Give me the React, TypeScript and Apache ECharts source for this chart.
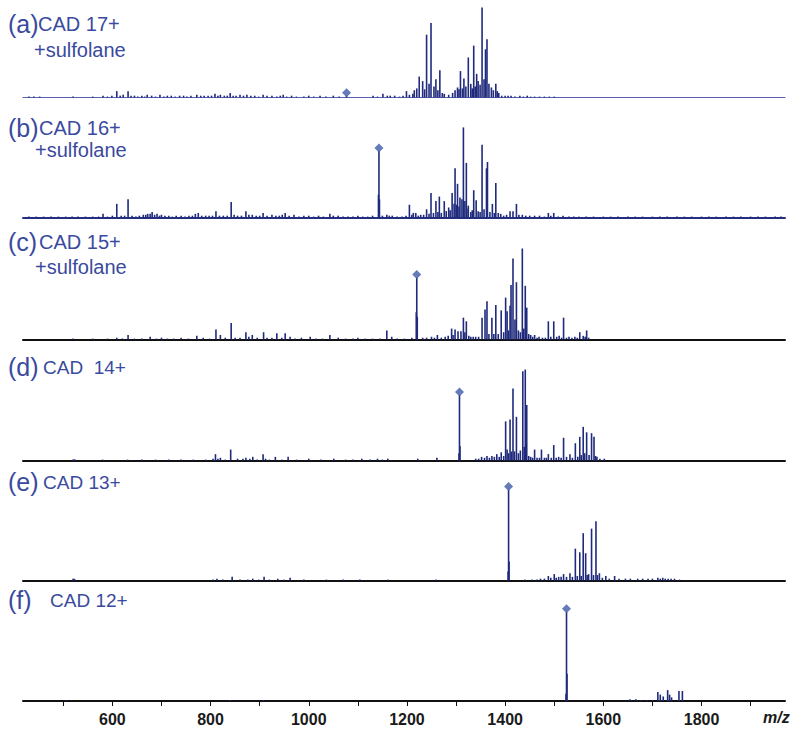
import React, { useEffect, useRef } from "react";
import * as echarts from "echarts";

// m/z axis
const MZ_MIN = 418;
const MZ_MAX = 1970;
const tickValues = [500, 600, 700, 800, 900, 1000, 1100, 1200, 1300, 1400, 1500, 1600, 1700, 1800, 1900];
const labelValues = [600, 800, 1000, 1200, 1400, 1600, 1800];

// panel labels
const panelTags = ["(a)", "(b)", "(c)", "(d)", "(e)", "(f)"];
const panelTitles = ["CAD 17+", "CAD 16+", "CAD 15+", "CAD  14+", "CAD 13+", "CAD 12+"];
const panelSubtitles = ["+sulfolane", "+sulfolane", "+sulfolane", "", "", ""];

// precursor ions [m/z, relative intensity]
const precursors: [number, number][] = [
  [1077, 2],
  [1143, 73],
  [1220, 68],
  [1307, 72],
  [1407, 100],
  [1525, 98],
];

// fragment spectra [m/z, relative intensity]
const peaksA: [number, number][] = [
  [430, 1], [440, 1], [452, 1], [520, 1], [560, 1], [581, 2], [590, 1], [599, 2], [609, 7], [616, 2],
  [622, 3], [632, 7], [638, 2], [645, 2], [652, 1], [660, 2], [666, 1], [671, 3], [680, 2], [688, 1],
  [697, 3], [705, 1], [712, 2], [720, 2], [728, 1], [737, 2], [745, 2], [752, 1], [760, 2], [772, 3],
  [780, 2], [787, 2], [795, 2], [802, 2], [809, 4], [815, 2], [820, 3], [828, 2], [834, 2], [840, 5],
  [846, 2], [852, 2], [860, 3], [867, 2], [874, 3], [882, 2], [890, 2], [898, 1], [907, 3], [915, 2],
  [925, 2], [935, 1], [942, 2], [948, 3], [955, 1], [965, 2], [975, 1], [990, 1], [1000, 2], [1010, 1],
  [1023, 2], [1035, 1], [1050, 2], [1062, 1], [1077, 2], [1131, 2], [1140, 1], [1151, 4], [1160, 2],
  [1166, 2], [1175, 2], [1185, 1], [1192, 2], [1199, 7], [1205, 3], [1212, 4], [1215, 8], [1220, 10],
  [1225, 23], [1232, 18], [1236, 9], [1240, 69], [1245, 15], [1249, 82], [1255, 12], [1259, 20],
  [1263, 8], [1267, 30], [1272, 5], [1276, 4], [1285, 3], [1293, 5], [1298, 8], [1303, 11], [1306, 9],
  [1309, 29], [1313, 10], [1316, 21], [1320, 12], [1325, 44], [1330, 15], [1333, 10], [1336, 57],
  [1339, 12], [1342, 26], [1345, 18], [1349, 14], [1353, 99], [1357, 20], [1360, 53], [1363, 64],
  [1367, 15], [1372, 11], [1376, 8], [1381, 15], [1384, 7], [1387, 5], [1393, 2], [1400, 2], [1406, 2],
  [1412, 2], [1420, 1], [1430, 2], [1437, 1], [1445, 2], [1452, 1], [1460, 1], [1470, 1], [1480, 1],
  [1490, 1], [1500, 1],
];

const peaksB: [number, number][] = [
  [430, 1], [445, 1], [460, 1], [475, 1], [490, 1], [505, 1], [518, 1], [530, 1], [545, 1], [560, 1],
  [572, 1], [581, 4], [590, 1], [600, 2], [609, 15], [618, 2], [625, 2], [632, 20], [640, 2], [648, 1],
  [655, 2], [663, 3], [668, 3], [672, 4], [677, 4], [681, 6], [686, 3], [691, 4], [696, 2], [700, 3],
  [707, 2], [715, 2], [722, 1], [730, 2], [740, 2], [748, 1], [756, 2], [763, 2], [769, 4], [775, 5],
  [782, 2], [790, 2], [797, 2], [804, 2], [811, 7], [818, 2], [826, 2], [834, 2], [842, 17], [848, 3],
  [855, 2], [863, 2], [872, 7], [878, 3], [885, 3], [893, 2], [900, 2], [907, 5], [915, 2], [925, 3],
  [933, 2], [940, 2], [946, 3], [952, 5], [960, 2], [970, 3], [980, 1], [990, 2], [1000, 2], [1010, 1],
  [1020, 2], [1030, 1], [1043, 4], [1050, 2], [1060, 2], [1070, 1], [1080, 1], [1090, 1], [1100, 2],
  [1110, 1], [1120, 1], [1130, 2], [1142, 25], [1143, 73], [1144, 20], [1150, 2], [1159, 3], [1164, 2],
  [1170, 2], [1180, 1], [1190, 1], [1198, 2], [1205, 14], [1210, 3], [1213, 5], [1218, 5], [1223, 2],
  [1228, 3], [1234, 3], [1240, 9], [1245, 4], [1249, 27], [1254, 5], [1259, 18], [1263, 6], [1266, 23],
  [1270, 5], [1276, 18], [1280, 7], [1285, 11], [1288, 8], [1292, 27], [1296, 15], [1298, 54],
  [1301, 14], [1303, 37], [1306, 12], [1308, 22], [1312, 20], [1315, 99], [1318, 18], [1321, 60],
  [1322, 10], [1325, 13], [1330, 6], [1333, 8], [1336, 30], [1341, 19], [1345, 7], [1349, 6],
  [1353, 80], [1357, 9], [1362, 54], [1364, 61], [1369, 6], [1374, 15], [1378, 5], [1381, 38],
  [1386, 5], [1391, 4], [1397, 2], [1403, 3], [1410, 7], [1416, 7], [1423, 15], [1428, 3], [1435, 3],
  [1442, 2], [1450, 2], [1460, 2], [1470, 2], [1480, 1], [1488, 5], [1493, 2], [1499, 5], [1508, 1],
  [1518, 2], [1530, 1], [1540, 1], [1550, 1], [1565, 1], [1580, 1], [1600, 1], [1615, 1], [1630, 1],
  [1650, 1], [1665, 1], [1680, 1], [1700, 1], [1715, 1], [1730, 1], [1750, 1], [1765, 1], [1780, 1],
  [1800, 1], [1815, 1], [1830, 1], [1850, 1], [1865, 1], [1880, 1], [1900, 1], [1915, 1], [1930, 1],
  [1950, 1], [1962, 1],
];

const peaksC: [number, number][] = [
  [520, 1], [560, 1], [590, 1], [609, 2], [620, 1], [632, 5], [645, 1], [660, 1], [677, 3], [690, 1],
  [700, 2], [712, 1], [725, 1], [740, 2], [755, 1], [772, 4], [785, 2], [798, 1], [811, 11], [820, 5],
  [830, 2], [842, 18], [850, 2], [860, 2], [872, 8], [878, 3], [885, 5], [895, 2], [908, 8], [915, 2],
  [925, 2], [935, 7], [945, 2], [952, 7], [962, 3], [972, 1], [985, 2], [1003, 3], [1015, 1], [1028, 1],
  [1043, 5], [1060, 2], [1075, 1], [1090, 1], [1100, 2], [1115, 1], [1130, 1], [1145, 1], [1159, 10],
  [1169, 3], [1180, 1], [1195, 1], [1210, 2], [1219, 30], [1220, 68], [1221, 25], [1232, 2], [1240, 2],
  [1250, 3], [1256, 2], [1262, 5], [1270, 2], [1278, 3], [1284, 4], [1291, 12], [1294, 5], [1298, 11],
  [1304, 9], [1310, 9], [1315, 24], [1318, 8], [1321, 20], [1326, 4], [1330, 3], [1335, 3], [1340, 3],
  [1346, 3], [1353, 24], [1359, 33], [1363, 42], [1367, 6], [1373, 24], [1377, 6], [1381, 38],
  [1386, 6], [1392, 32], [1397, 8], [1401, 46], [1404, 31], [1407, 10], [1410, 37], [1412, 60],
  [1416, 89], [1420, 22], [1423, 63], [1427, 10], [1431, 8], [1435, 100], [1438, 12], [1441, 59],
  [1444, 35], [1448, 6], [1452, 5], [1456, 3], [1460, 5], [1465, 2], [1469, 3], [1476, 2], [1482, 2],
  [1488, 20], [1493, 3], [1499, 20], [1505, 3], [1510, 4], [1515, 2], [1519, 24], [1525, 2], [1530, 3],
  [1536, 2], [1542, 3], [1547, 2], [1552, 8], [1559, 4], [1563, 3], [1566, 10], [1570, 2],
];

const peaksD: [number, number][] = [
  [520, 1], [522, 1], [524, 1], [580, 1], [631, 1], [660, 1], [688, 1], [715, 1], [740, 1], [765, 1],
  [790, 1], [805, 2], [810, 7], [815, 2], [820, 3], [830, 1], [841, 12], [855, 2], [866, 2], [872, 3],
  [880, 2], [886, 4], [895, 1], [907, 7], [912, 2], [920, 1], [932, 4], [945, 1], [958, 4], [975, 1],
  [1000, 2], [1025, 1], [1051, 2], [1075, 1], [1090, 1], [1108, 2], [1125, 1], [1140, 2], [1150, 1],
  [1161, 2], [1222, 2], [1261, 3], [1306, 8], [1307, 72], [1308, 16], [1340, 2], [1346, 2], [1352, 4],
  [1358, 3], [1363, 5], [1368, 3], [1373, 5], [1378, 4], [1383, 7], [1388, 4], [1392, 9], [1397, 5],
  [1401, 43], [1404, 12], [1407, 8], [1410, 45], [1413, 10], [1416, 79], [1419, 10], [1423, 48],
  [1427, 8], [1431, 11], [1436, 98], [1439, 15], [1441, 100], [1444, 61], [1448, 5], [1452, 4], [1456, 3],
  [1460, 12], [1465, 3], [1470, 3], [1474, 12], [1480, 3], [1484, 3], [1488, 7], [1494, 3], [1499, 17],
  [1504, 3], [1509, 4], [1514, 3], [1519, 25], [1525, 4], [1532, 7], [1537, 3], [1543, 19], [1548, 4],
  [1552, 26], [1555, 6], [1559, 37], [1562, 8], [1566, 31], [1571, 6], [1576, 30], [1581, 26],
  [1584, 5], [1587, 4], [1593, 2], [1602, 2],
];

const peaksE: [number, number][] = [
  [520, 2], [522, 2], [524, 1], [805, 1], [813, 2], [825, 1], [844, 4], [860, 1], [876, 1], [886, 2],
  [898, 1], [909, 4], [920, 1], [937, 2], [950, 1], [962, 3], [990, 1], [1036, 1], [1070, 1], [1104, 1],
  [1161, 1], [1259, 1], [1406, 10], [1407, 100], [1408, 21], [1440, 1], [1455, 1], [1465, 1], [1472, 2],
  [1480, 2], [1488, 5], [1493, 3], [1500, 7], [1504, 3], [1509, 4], [1514, 4], [1519, 7], [1525, 4],
  [1532, 8], [1537, 4], [1543, 35], [1547, 5], [1552, 31], [1555, 5], [1559, 52], [1564, 30], [1567, 6],
  [1570, 7], [1576, 57], [1580, 6], [1585, 65], [1588, 6], [1592, 8], [1598, 3], [1605, 5], [1612, 2],
  [1623, 5], [1632, 2], [1645, 2], [1655, 2], [1670, 2], [1680, 2], [1691, 2], [1700, 2], [1711, 3],
  [1716, 2], [1721, 3], [1726, 2], [1732, 2], [1738, 2], [1745, 2], [1755, 1],
];

const peaksF: [number, number][] = [
  [506, 1], [840, 1], [907, 1], [1524, 8], [1525, 98], [1526, 30], [1654, 2], [1666, 2], [1677, 1],
  [1688, 1], [1700, 1], [1711, 10], [1716, 7], [1722, 5], [1731, 12], [1735, 7], [1739, 4], [1754, 11],
  [1761, 11],
];

const spectra = [peaksA, peaksB, peaksC, peaksD, peaksE, peaksF];

// layout (px)
const baselines = [97.5, 217.5, 339.5, 460.5, 580.5, 701];
const PANEL_H = 91;
const titleY = [24, 128, 242, 367, 482, 600];
const subY = [50, 150, 267, 0, 0, 0];
const titleX = [38, 39, 39, 43, 43, 50];
const subX = [34, 35, 35, 0, 0, 0];

const TEXT_BLUE = "#3a4a9e";
const PEAK_NAVY = "#1f2a7c";
const DIAMOND = "#3f5aa8";
const FONT = "'Liberation Sans', Arial, Helvetica, sans-serif";

export default function App() {
  const ref = useRef<HTMLDivElement>(null);

  useEffect(() => {
    if (!ref.current) return;
    const chart = echarts.init(ref.current, null, { renderer: "svg" });

    const grids: any[] = [];
    const xAxes: any[] = [];
    const yAxes: any[] = [];
    const series: any[] = [];
    const graphics: any[] = [];

    const axisLineStyles = [
      { color: "#5a62b0", width: 1 },
      { color: "#252f80", width: 2 },
      { color: "#111111", width: 2 },
      { color: "#111111", width: 2 },
      { color: "#111111", width: 2 },
      { color: "#111111", width: 2 },
    ];

    for (let i = 0; i < 6; i++) {
      const isLast = i === 5;
      grids.push({
        left: 23,
        right: 15,
        top: baselines[i] - PANEL_H,
        height: PANEL_H,
        containLabel: false,
      });
      xAxes.push({
        type: "value",
        gridIndex: i,
        min: MZ_MIN,
        max: MZ_MAX,
        splitLine: { show: false },
        axisLine: { show: true, lineStyle: axisLineStyles[i] },
        axisTick: isLast
          ? { show: true, customValues: tickValues, length: 5, lineStyle: { color: "#111", width: 1 } }
          : { show: false },
        axisLabel: isLast
          ? {
              show: true,
              customValues: labelValues,
              formatter: (v: number) => String(v),
              margin: 10,
              fontSize: 16,
              fontWeight: "bold",
              color: "#1a1a1a",
              fontFamily: FONT,
            }
          : { show: false },
      });
      yAxes.push({
        type: "value",
        gridIndex: i,
        min: 0,
        max: 100,
        show: false,
        splitLine: { show: false },
      });
      series.push({
        type: "bar",
        xAxisIndex: i,
        yAxisIndex: i,
        barWidth: 1.6,
        data: spectra[i].map(([mz, h]) => [mz, h]),
        itemStyle: { color: PEAK_NAVY },
        silent: true,
      });
      series.push({
        type: "scatter",
        xAxisIndex: i,
        yAxisIndex: i,
        symbol: "diamond",
        symbolSize: 9,
        symbolOffset: [0, -3],
        clip: false,
        data: [precursors[i]],
        itemStyle: { color: DIAMOND },
        silent: true,
      });

      graphics.push({
        type: "text",
        x: 8,
        y: titleY[i],
        style: {
          text: panelTags[i],
          font: `25px ${FONT}`,
          fill: TEXT_BLUE,
          verticalAlign: "middle",
          align: "left",
        },
      });
      graphics.push({
        type: "text",
        x: titleX[i],
        y: titleY[i],
        style: {
          text: panelTitles[i],
          font: `${i >= 3 ? 19 : 20}px ${FONT}`,
          fill: TEXT_BLUE,
          verticalAlign: "middle",
          align: "left",
        },
      });
      if (panelSubtitles[i]) {
        graphics.push({
          type: "text",
          x: subX[i],
          y: subY[i],
          style: {
            text: panelSubtitles[i],
            font: `20px ${FONT}`,
            fill: TEXT_BLUE,
            verticalAlign: "middle",
            align: "left",
          },
        });
      }
    }

    graphics.push({
      type: "text",
      x: 763,
      y: 717,
      style: {
        text: "m/z",
        font: `italic bold 16px ${FONT}`,
        fill: "#1a1a1a",
        verticalAlign: "middle",
        align: "left",
      },
    });

    chart.setOption({
      animation: false,
      backgroundColor: "#ffffff",
      textStyle: { fontFamily: FONT },
      grid: grids,
      xAxis: xAxes,
      yAxis: yAxes,
      series,
      graphic: graphics,
    });

    return () => chart.dispose();
  }, []);

  return (
    <div
      ref={ref}
      style={{ position: "fixed", left: 0, top: 0, width: 800, height: 733, background: "#fff" }}
    />
  );
}
